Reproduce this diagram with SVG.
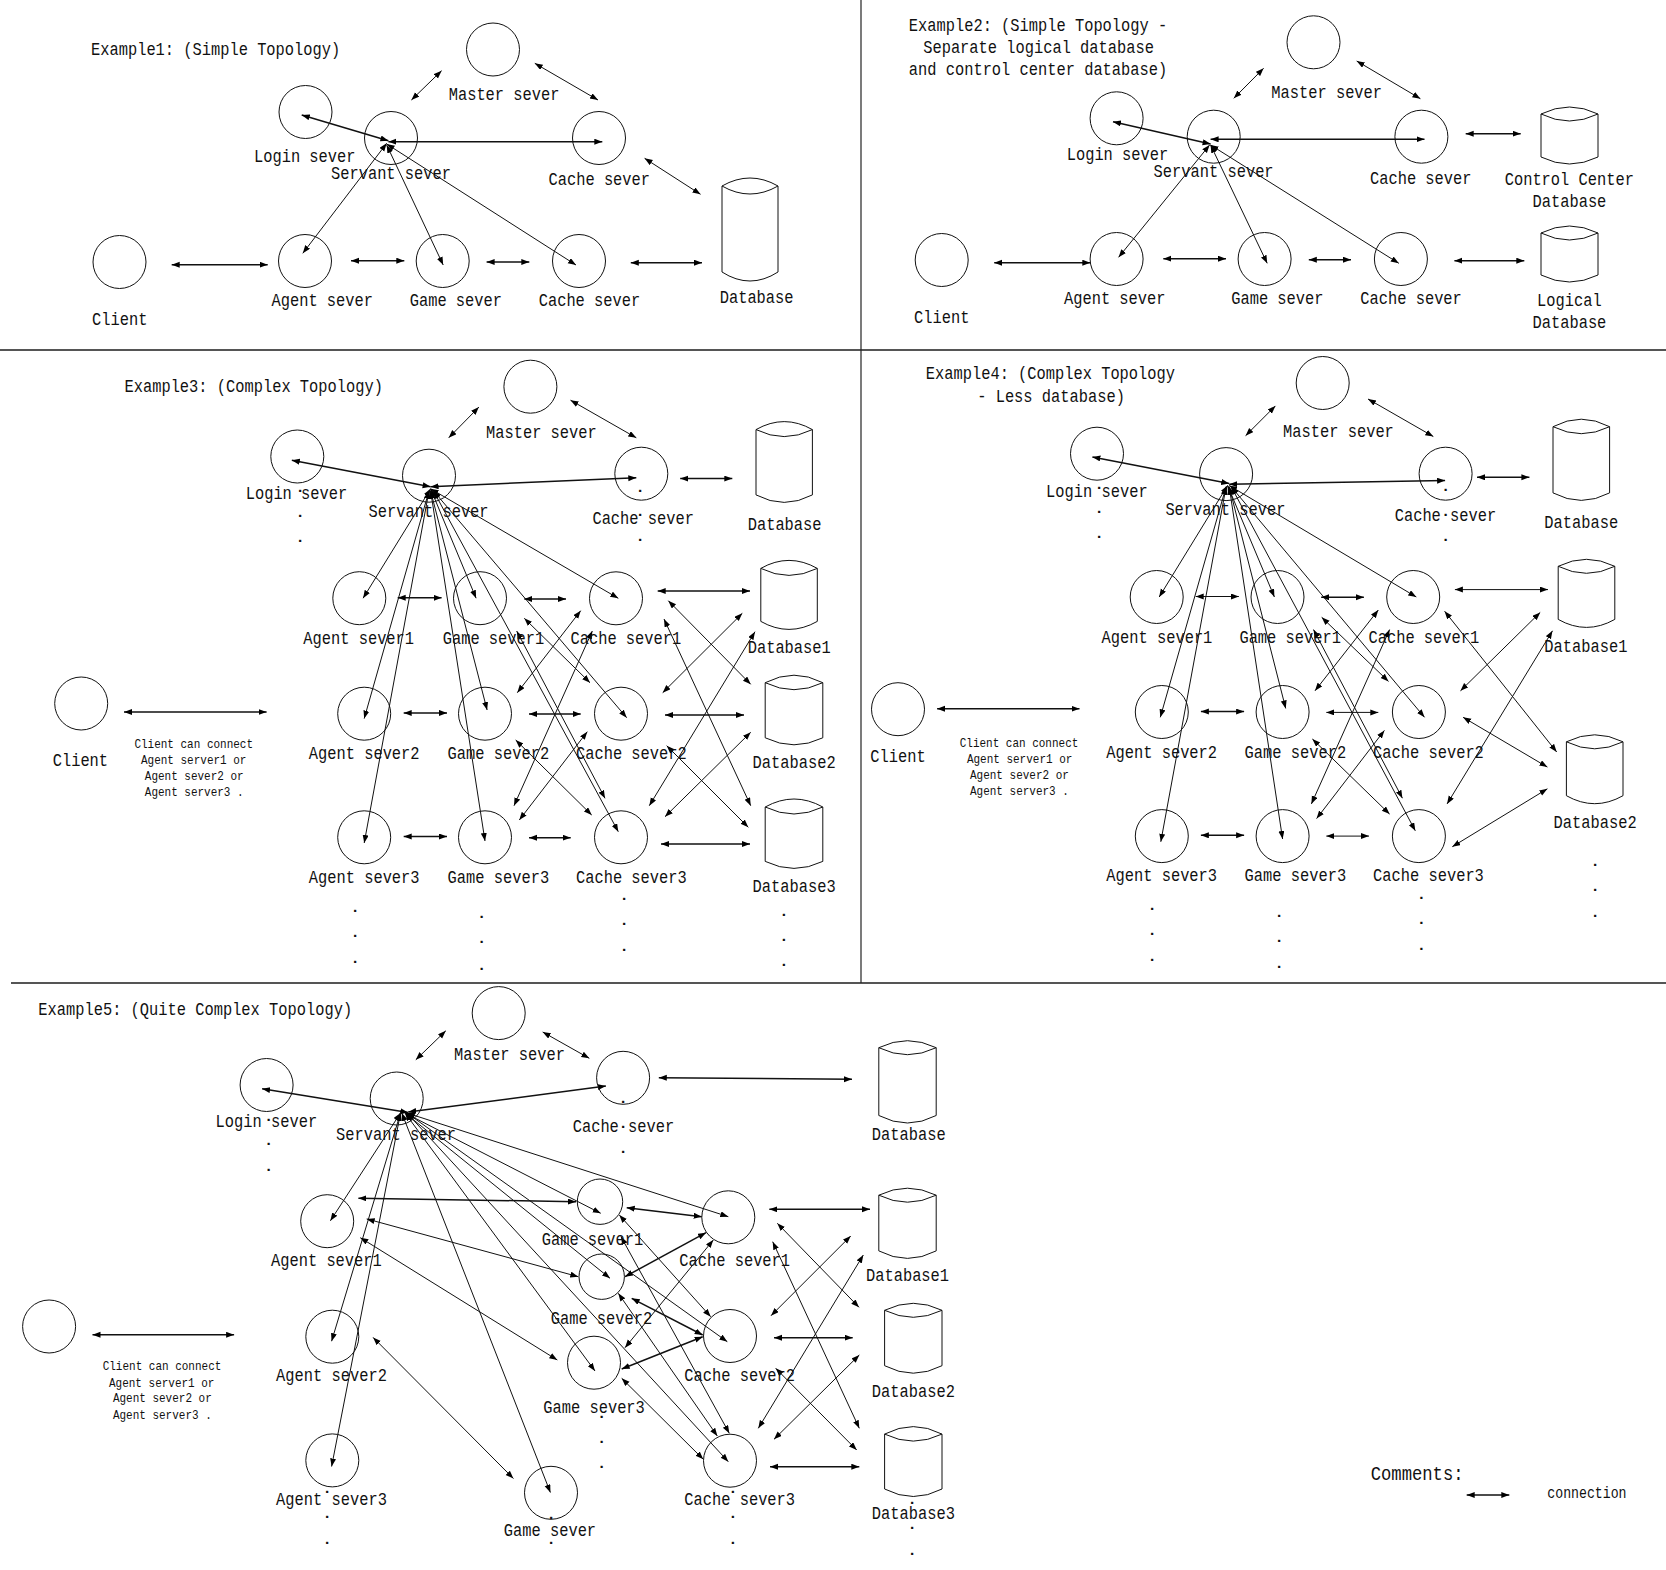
<svg xmlns="http://www.w3.org/2000/svg" width="1666" height="1570" viewBox="0 0 1666 1570">
<style>
text{font-family:"Liberation Mono",monospace;font-size:15.4px;fill:#111;transform-box:fill-box;transform-origin:0 100%;transform:translateY(.066em) scaleY(1.22)}
#dots text{transform:none;font-weight:bold}
.s{font-size:11px}
circle,.db{fill:none;stroke:#111;stroke-width:1}
#connectors line{stroke:#111;stroke-width:1;marker-start:url(#ah);marker-end:url(#ah)}
#connectors line.t{stroke-width:1.5}
.d{stroke:#555;stroke-width:2}
.v{stroke:#222;stroke-width:1.2}
</style>
<defs>
<marker id="ah" markerUnits="userSpaceOnUse" markerWidth="9" markerHeight="7" refX="8" refY="3" orient="auto-start-reverse"><path d="M0 0L8 3L0 6z" fill="#000"/></marker>
</defs>
<rect width="1666" height="1570" fill="#fff"/>
<g id="dividers">
<line class="d" x1="0" y1="350" x2="1666" y2="350"/>
<line class="d" x1="11" y1="983" x2="1666" y2="983"/>
<line class="v" x1="861" y1="0" x2="861" y2="983"/>
</g>
<g id="connectors">
<!-- Example 1 -->
<line x1="441.6" y1="70.7" x2="411.4" y2="100"/>
<line x1="534.8" y1="63.3" x2="598" y2="100"/>
<line class="t" x1="301.7" y1="115" x2="388.4" y2="140.7"/>
<line class="t" x1="388.4" y1="141.7" x2="602.3" y2="141.7"/>
<line x1="644.6" y1="158.3" x2="700.5" y2="194.3"/>
<line x1="386.7" y1="143.3" x2="302.8" y2="253.3"/>
<line x1="386.7" y1="145" x2="443.2" y2="265"/>
<line x1="386.7" y1="144" x2="576" y2="265"/>
<line class="t" x1="171.7" y1="264.7" x2="267.7" y2="264.7"/>
<line class="t" x1="351" y1="260.7" x2="404.3" y2="260.7"/>
<line class="t" x1="486.6" y1="262" x2="529.3" y2="262"/>
<line class="t" x1="630.8" y1="262.7" x2="702" y2="262.7"/>
<!-- Example 2 -->
<line x1="1263.6" y1="68.3" x2="1233.8" y2="98.3"/>
<line x1="1356.7" y1="61" x2="1420.4" y2="98.7"/>
<line class="t" x1="1113" y1="121.7" x2="1210.6" y2="144"/>
<line class="t" x1="1210.6" y1="139.3" x2="1424.5" y2="139.3"/>
<line class="t" x1="1465.7" y1="133.7" x2="1520.7" y2="133.7"/>
<line x1="1209.6" y1="145" x2="1118.6" y2="257.3"/>
<line x1="1210.6" y1="145" x2="1267.2" y2="263.3"/>
<line x1="1210.6" y1="145" x2="1398.8" y2="263.3"/>
<line class="t" x1="994.2" y1="262.7" x2="1090.3" y2="262.7"/>
<line class="t" x1="1163.3" y1="258.7" x2="1226" y2="258.7"/>
<line class="t" x1="1308.8" y1="259.7" x2="1351" y2="259.7"/>
<line class="t" x1="1454.4" y1="260.7" x2="1524.3" y2="260.7"/>
<!-- Example 3 -->
<line x1="478.9" y1="407.1" x2="448.7" y2="437.8"/>
<line x1="570.5" y1="400.2" x2="636.3" y2="437.8"/>
<line class="t" x1="291.8" y1="460.2" x2="430.6" y2="486.7"/>
<line class="t" x1="430.6" y1="486.7" x2="636.3" y2="477.8"/>
<line class="t" x1="680.2" y1="478.6" x2="732.3" y2="478.6"/>
<line x1="430.6" y1="488.8" x2="363.1" y2="598.2"/>
<line x1="430.6" y1="488.8" x2="476.1" y2="598.2"/>
<line x1="430.6" y1="488.8" x2="618.3" y2="598.3"/>
<line x1="429" y1="490.8" x2="364.2" y2="718.6"/>
<line x1="430.6" y1="490.8" x2="487.1" y2="710"/>
<line x1="433.4" y1="490.8" x2="626.7" y2="717.7"/>
<line x1="429" y1="490.8" x2="364.2" y2="843"/>
<line x1="430.6" y1="490.8" x2="485" y2="841"/>
<line x1="433.4" y1="490.8" x2="618.3" y2="831.7"/>
<line x1="516.7" y1="631" x2="605" y2="798.3"/>
<line class="t" x1="124" y1="712" x2="266.6" y2="712"/>
<line class="t" x1="397.7" y1="597.8" x2="441.6" y2="597.8"/>
<line class="t" x1="524.3" y1="599" x2="566" y2="599"/>
<line class="t" x1="657.7" y1="591" x2="750" y2="591"/>
<line class="t" x1="403.7" y1="712.9" x2="447" y2="712.9"/>
<line class="t" x1="529" y1="714" x2="580.7" y2="714"/>
<line class="t" x1="665" y1="715" x2="744" y2="715"/>
<line class="t" x1="403.7" y1="836.5" x2="447" y2="836.5"/>
<line class="t" x1="529" y1="837.7" x2="570.7" y2="837.7"/>
<line class="t" x1="661" y1="844" x2="750" y2="844"/>
<line x1="580.7" y1="610.7" x2="517.3" y2="692.7"/>
<line x1="592.3" y1="631" x2="514" y2="805.7"/>
<line x1="524.3" y1="618.3" x2="590" y2="682.7"/>
<line x1="587.3" y1="731.7" x2="519.3" y2="820"/>
<line x1="515.7" y1="740" x2="591.7" y2="815"/>
<line x1="668.3" y1="600.7" x2="750.7" y2="684.3"/>
<line x1="664" y1="619" x2="750.7" y2="805.7"/>
<line x1="742.3" y1="613.3" x2="662.7" y2="692.7"/>
<line x1="755" y1="631.7" x2="649.3" y2="805.7"/>
<line x1="666.7" y1="745.7" x2="748.3" y2="827.3"/>
<line x1="750.7" y1="732.3" x2="665" y2="816.7"/>
<!-- Example 4 -->
<line x1="1275.4" y1="405.9" x2="1245.6" y2="435.7"/>
<line x1="1368" y1="399" x2="1433.3" y2="436.5"/>
<line class="t" x1="1092.4" y1="456.9" x2="1229.2" y2="483.5"/>
<line class="t" x1="1229.2" y1="484.3" x2="1445.1" y2="480.6"/>
<line class="t" x1="1477" y1="477.3" x2="1529.4" y2="477.3"/>
<line x1="1227.6" y1="485.5" x2="1159.2" y2="597"/>
<line x1="1227.6" y1="485.5" x2="1274.4" y2="597"/>
<line x1="1229.2" y1="485.5" x2="1416.3" y2="597"/>
<line x1="1226.1" y1="486.7" x2="1160.3" y2="717.3"/>
<line x1="1229.2" y1="486.7" x2="1285.7" y2="708.4"/>
<line x1="1231.2" y1="486.7" x2="1424.5" y2="717.3"/>
<line x1="1226.1" y1="486.7" x2="1160.8" y2="841.8"/>
<line x1="1229.2" y1="486.7" x2="1282.6" y2="839"/>
<line x1="1231.2" y1="486.7" x2="1415.3" y2="830.8"/>
<line x1="1313.5" y1="629.6" x2="1402.4" y2="798.2"/>
<line class="t" x1="937.1" y1="708.8" x2="1079.5" y2="708.8"/>
<line x1="1195.7" y1="596.5" x2="1238.9" y2="596.5"/>
<line class="t" x1="1321.2" y1="597.3" x2="1363.9" y2="597.3"/>
<line x1="1454.9" y1="589.6" x2="1548" y2="589.6"/>
<line class="t" x1="1200.9" y1="711.6" x2="1244.1" y2="711.6"/>
<line x1="1326.3" y1="712.4" x2="1378.3" y2="712.4"/>
<line class="t" x1="1200.9" y1="835.3" x2="1244.1" y2="835.3"/>
<line x1="1326.3" y1="836.1" x2="1369" y2="836.1"/>
<line x1="1378.3" y1="610" x2="1315" y2="690.8"/>
<line x1="1389.6" y1="629.6" x2="1311.4" y2="803.9"/>
<line x1="1321.7" y1="617.3" x2="1388.5" y2="681.4"/>
<line x1="1384.4" y1="730.4" x2="1316.6" y2="818.6"/>
<line x1="1312.4" y1="739" x2="1389.6" y2="814.1"/>
<line x1="1444.6" y1="611.2" x2="1556.7" y2="752"/>
<line x1="1540.2" y1="612.4" x2="1460.5" y2="690.8"/>
<line x1="1552.5" y1="630.8" x2="1447.1" y2="803.9"/>
<line x1="1463.1" y1="717.3" x2="1547.4" y2="767.1"/>
<line x1="1547.4" y1="788.8" x2="1452.3" y2="846.7"/>
<!-- Example 5 -->
<line x1="445.8" y1="1030.8" x2="415.8" y2="1059.8"/>
<line x1="542.7" y1="1032" x2="589.3" y2="1058.3"/>
<line class="t" x1="262.1" y1="1088.8" x2="408.2" y2="1112.6"/>
<line class="t" x1="408.2" y1="1112" x2="605.9" y2="1086.1"/>
<line class="t" x1="658.8" y1="1077.8" x2="852" y2="1079.3"/>
<line x1="400.5" y1="1113" x2="330.4" y2="1220.8"/>
<line x1="400.5" y1="1113" x2="331.6" y2="1341.2"/>
<line x1="400.5" y1="1113" x2="331.6" y2="1466.5"/>
<line x1="405" y1="1113" x2="600.7" y2="1213.3"/>
<line x1="405" y1="1113" x2="610" y2="1278.3"/>
<line x1="405" y1="1113" x2="595" y2="1371"/>
<line x1="401.8" y1="1113" x2="550.4" y2="1492.5"/>
<line x1="406.9" y1="1113" x2="728.3" y2="1216.7"/>
<line x1="406.9" y1="1113" x2="727.3" y2="1341.7"/>
<line x1="406.9" y1="1113" x2="728.3" y2="1461.7"/>
<line class="t" x1="358.4" y1="1198.2" x2="576" y2="1201.7"/>
<line x1="366.7" y1="1218.9" x2="578.3" y2="1276.7"/>
<line x1="360.3" y1="1237.7" x2="557.3" y2="1360"/>
<line x1="373.1" y1="1337.4" x2="513.4" y2="1478.5"/>
<line class="t" x1="92.5" y1="1334.8" x2="234.1" y2="1334.8"/>
<line class="t" x1="626.7" y1="1207.7" x2="701.7" y2="1216.7"/>
<line x1="619.3" y1="1215" x2="710.7" y2="1316.7"/>
<line x1="621" y1="1236.7" x2="729.3" y2="1433.3"/>
<line class="t" x1="625" y1="1276.7" x2="706" y2="1232.7"/>
<line class="t" x1="631.7" y1="1298.3" x2="702.7" y2="1335"/>
<line x1="618.3" y1="1293.3" x2="717.3" y2="1436"/>
<line x1="625" y1="1347.7" x2="713.3" y2="1240"/>
<line class="t" x1="621.7" y1="1369" x2="702.7" y2="1336.7"/>
<line x1="621.7" y1="1378.3" x2="703.3" y2="1459.3"/>
<line class="t" x1="769.3" y1="1209.3" x2="870" y2="1209.3"/>
<line class="t" x1="774" y1="1337.7" x2="852.7" y2="1337.7"/>
<line class="t" x1="770" y1="1466.7" x2="859.3" y2="1466.7"/>
<line x1="777.3" y1="1223.3" x2="859" y2="1307.3"/>
<line x1="772.7" y1="1241.7" x2="859.3" y2="1428.3"/>
<line x1="850.7" y1="1236" x2="771" y2="1315.7"/>
<line x1="863.3" y1="1255" x2="758.3" y2="1428.3"/>
<line x1="859.3" y1="1355" x2="774" y2="1439.3"/>
<line x1="775.7" y1="1368.3" x2="856.7" y2="1450"/>
<!-- Legend -->
<line class="t" x1="1466.7" y1="1495" x2="1509.3" y2="1495"/>
</g>
<g id="labels">
<text x="91" y="55">Example1: (Simple Topology)</text>
<text x="908.8" y="31">Example2: (Simple Topology -</text>
<text x="923.2" y="52.7">Separate logical database</text>
<text x="908.8" y="74.7">and control center database)</text>
<text x="124.5" y="391.6">Example3: (Complex Topology)</text>
<text x="925.8" y="378.6">Example4: (Complex Topology</text>
<text x="977.2" y="401.8">- Less database)</text>
<text x="38.3" y="1014.6">Example5: (Quite Complex Topology)</text>
<text x="134.4" y="748" class="s">Client can connect</text>
<text x="141" y="764.3" class="s">Agent server1 or</text>
<text x="144.8" y="780.2" class="s">Agent sever2 or</text>
<text x="144.8" y="796.1" class="s">Agent server3 .</text>
<text x="959.7" y="746.7" class="s">Client can connect</text>
<text x="966.9" y="762.7" class="s">Agent server1 or</text>
<text x="970" y="778.6" class="s">Agent sever2 or</text>
<text x="970" y="794.9" class="s">Agent server3 .</text>
<text x="102.7" y="1370.5" class="s">Client can connect</text>
<text x="109" y="1386.7" class="s">Agent server1 or</text>
<text x="112.9" y="1402.5" class="s">Agent sever2 or</text>
<text x="112.9" y="1418.7" class="s">Agent server3 .</text>
<text x="1370.7" y="1480" style="font-size:17.2px">Comments:</text>
<text x="1547.3" y="1498.3" style="font-size:13.2px">connection</text>
</g>
<g id="dots" text-anchor="middle">
<text x="300" y="492">.</text><text x="300" y="517">.</text><text x="300" y="542">.</text>
<text x="640" y="492">.</text><text x="640" y="516">.</text><text x="640" y="541">.</text>
<text x="355" y="912">.</text><text x="355" y="937">.</text><text x="355" y="963">.</text>
<text x="481.6" y="918">.</text><text x="481.6" y="943">.</text><text x="481.6" y="970">.</text>
<text x="624.2" y="900">.</text><text x="624.2" y="925">.</text><text x="624.2" y="951">.</text>
<text x="783.9" y="916">.</text><text x="783.9" y="941">.</text><text x="783.9" y="966">.</text>
<text x="1099" y="489">.</text><text x="1099" y="513">.</text><text x="1099" y="538">.</text>
<text x="1445.6" y="491">.</text><text x="1445.6" y="516">.</text><text x="1445.6" y="541">.</text>
<text x="1152" y="910">.</text><text x="1152" y="935">.</text><text x="1152" y="961">.</text>
<text x="1279" y="917">.</text><text x="1279" y="942">.</text><text x="1279" y="968">.</text>
<text x="1421.4" y="899">.</text><text x="1421.4" y="924">.</text><text x="1421.4" y="950">.</text>
<text x="1595.2" y="866">.</text><text x="1595.2" y="891">.</text><text x="1595.2" y="917">.</text>
<text x="268.5" y="1121">.</text><text x="268.5" y="1145">.</text><text x="268.5" y="1171">.</text>
<text x="623" y="1103">.</text><text x="623" y="1128">.</text><text x="623" y="1153">.</text>
<text x="601.7" y="1418">.</text><text x="601.7" y="1443">.</text><text x="601.7" y="1468">.</text>
<text x="327.2" y="1493">.</text><text x="327.2" y="1518">.</text><text x="327.2" y="1544">.</text>
<text x="732.8" y="1493">.</text><text x="732.8" y="1518">.</text><text x="732.8" y="1544">.</text>
<text x="551" y="1519">.</text><text x="551" y="1544">.</text>
<text x="912" y="1504">.</text><text x="912" y="1529">.</text><text x="912" y="1555">.</text>
</g>
<g id="ex1-master"><circle cx="493" cy="49.5" r="26.5"/><text x="448.7" y="100">Master sever</text></g>
<g id="ex1-login"><circle cx="305.5" cy="112" r="26.5"/><text x="254" y="161.7">Login sever</text></g>
<g id="ex1-servant"><circle cx="391" cy="138" r="26.5"/><text x="331" y="179">Servant sever</text></g>
<g id="ex1-cache-top"><circle cx="599" cy="138" r="26.5"/><text x="548.5" y="185">Cache sever</text></g>
<g id="ex1-client"><circle cx="119.5" cy="262" r="26.5"/><text x="92" y="325">Client</text></g>
<g id="ex1-agent"><circle cx="305" cy="261" r="26.5"/><text x="271.5" y="306">Agent sever</text></g>
<g id="ex1-game"><circle cx="442.7" cy="261" r="26.5"/><text x="409.7" y="306">Game sever</text></g>
<g id="ex1-cache"><circle cx="579" cy="261" r="26.5"/><text x="538.7" y="306">Cache sever</text></g>
<g id="ex1-database"><path class="db" d="M722 186q28 -16 56 0q-28 16 -56 0v86q28 18 56 0v-86"/><text x="719.7" y="303.3">Database</text></g>
<g id="ex2-master"><circle cx="1313.5" cy="42.3" r="26.5"/><text x="1271.3" y="97.7">Master sever</text></g>
<g id="ex2-login"><circle cx="1116.6" cy="118.3" r="26.5"/><text x="1066.7" y="160">Login sever</text></g>
<g id="ex2-servant"><circle cx="1213.7" cy="136.7" r="26.5"/><text x="1153.6" y="176.7">Servant sever</text></g>
<g id="ex2-cache-top"><circle cx="1421.4" cy="136.7" r="26.5"/><text x="1370" y="183.7">Cache sever</text></g>
<g id="ex2-client"><circle cx="941.7" cy="260" r="26.5"/><text x="914" y="322.7">Client</text></g>
<g id="ex2-agent"><circle cx="1116.6" cy="259" r="26.5"/><text x="1064" y="304">Agent sever</text></g>
<g id="ex2-game"><circle cx="1264.6" cy="259" r="26.5"/><text x="1231.2" y="304">Game sever</text></g>
<g id="ex2-cache"><circle cx="1400.9" cy="259" r="26.5"/><text x="1360.3" y="304">Cache sever</text></g>
<g id="ex2-control-db"><path class="db" d="M1541 114q28.5 -14 57 0q-28.5 14 -57 0v43q28.5 14 57 0v-43"/><text x="1504.7" y="184.7">Control Center</text><text x="1532.5" y="206.7">Database</text></g>
<g id="ex2-logical-db"><path class="db" d="M1541 233q28.5 -14 57 0q-28.5 14 -57 0v42q28.5 14 57 0v-42"/><text x="1537" y="305.7">Logical</text><text x="1532.5" y="327.7">Database</text></g>
<g id="ex3-master"><circle cx="530.4" cy="386.7" r="26.5"/><text x="486" y="438.2">Master sever</text></g>
<g id="ex3-login"><circle cx="297.3" cy="456.5" r="26.5"/><text x="245.7" y="499">Login sever</text></g>
<g id="ex3-servant"><circle cx="429" cy="475.7" r="26.5"/><text x="368.6" y="517.3">Servant sever</text></g>
<g id="ex3-cache-top"><circle cx="641.3" cy="473.7" r="26.5"/><text x="592.4" y="523.5">Cache sever</text></g>
<g id="ex3-agent1"><circle cx="359.3" cy="598.2" r="26.5"/><text x="303.3" y="643.5">Agent sever1</text></g>
<g id="ex3-game1"><circle cx="480" cy="598.2" r="26.5"/><text x="442.7" y="643.5">Game sever1</text></g>
<g id="ex3-cache1"><circle cx="616" cy="598.3" r="26.5"/><text x="570.5" y="643.5">Cache sever1</text></g>
<g id="ex3-agent2"><circle cx="364.2" cy="713.7" r="26.5"/><text x="308.8" y="758.6">Agent sever2</text></g>
<g id="ex3-game2"><circle cx="485" cy="713.7" r="26.5"/><text x="447.6" y="758.6">Game sever2</text></g>
<g id="ex3-cache2"><circle cx="621" cy="713.7" r="26.5"/><text x="576" y="758.6">Cache sever2</text></g>
<g id="ex3-agent3"><circle cx="364.2" cy="837.3" r="26.5"/><text x="308.8" y="882.7">Agent sever3</text></g>
<g id="ex3-game3"><circle cx="485" cy="837.3" r="26.5"/><text x="447.6" y="882.7">Game sever3</text></g>
<g id="ex3-cache3"><circle cx="621" cy="837.3" r="26.5"/><text x="576" y="882.7">Cache sever3</text></g>
<g id="ex3-client"><circle cx="81.2" cy="703.5" r="26.5"/><text x="52.7" y="766">Client</text></g>
<g id="ex3-database"><path class="db" d="M756 429.6q28.2 -16 56.4 0q-28.2 14 -56.4 0v65.3q28.2 15 56.4 0v-65.3"/><text x="747.7" y="529.6">Database</text></g>
<g id="ex3-database1"><path class="db" d="M760.8 568.4q28.2 -16 56.5 0q-28.2 14 -56.5 0v53q28.2 16 56.5 0v-53"/><text x="747.7" y="653.3">Database1</text></g>
<g id="ex3-database2"><path class="db" d="M765.2 682.7q28.8 -15 57.6 0q-28.8 14 -57.6 0v55.1q28.8 14 57.6 0v-55.1"/><text x="752.6" y="768.4">Database2</text></g>
<g id="ex3-database3"><path class="db" d="M765.2 807q28.8 -16 57.6 0q-28.8 14 -57.6 0v54.4q28.8 14 57.6 0v-54.4"/><text x="752.6" y="892.4">Database3</text></g>
<g id="ex4-master"><circle cx="1322.7" cy="383" r="26.5"/><text x="1283.1" y="436.5">Master sever</text></g>
<g id="ex4-login"><circle cx="1097" cy="453.7" r="26.5"/><text x="1046.1" y="496.5">Login sever</text></g>
<g id="ex4-servant"><circle cx="1226.1" cy="474.1" r="26.5"/><text x="1165.4" y="515.3">Servant sever</text></g>
<g id="ex4-cache-top"><circle cx="1445.6" cy="473.7" r="26.5"/><text x="1394.7" y="521.4">Cache sever</text></g>
<g id="ex4-agent1"><circle cx="1156.7" cy="597" r="26.5"/><text x="1101.6" y="642.7">Agent sever1</text></g>
<g id="ex4-game1"><circle cx="1277.5" cy="597" r="26.5"/><text x="1239.4" y="642.7">Game sever1</text></g>
<g id="ex4-cache1"><circle cx="1413.2" cy="597" r="26.5"/><text x="1368.5" y="642.7">Cache sever1</text></g>
<g id="ex4-agent2"><circle cx="1161.8" cy="712" r="26.5"/><text x="1106.3" y="757.8">Agent sever2</text></g>
<g id="ex4-game2"><circle cx="1282.6" cy="712" r="26.5"/><text x="1244.6" y="757.8">Game sever2</text></g>
<g id="ex4-cache2"><circle cx="1418.9" cy="712" r="26.5"/><text x="1373.1" y="757.8">Cache sever2</text></g>
<g id="ex4-agent3"><circle cx="1161.8" cy="836.1" r="26.5"/><text x="1106.3" y="881.4">Agent sever3</text></g>
<g id="ex4-game3"><circle cx="1282.6" cy="836.1" r="26.5"/><text x="1244.6" y="881.4">Game sever3</text></g>
<g id="ex4-cache3"><circle cx="1418.9" cy="836.1" r="26.5"/><text x="1373.1" y="881.4">Cache sever3</text></g>
<g id="ex4-client"><circle cx="898" cy="709.2" r="26.5"/><text x="870.3" y="762.2">Client</text></g>
<g id="ex4-database"><path class="db" d="M1553 426.7q28.3 -15 56.6 0q-28.3 14 -56.6 0v66.2q28.3 15 56.6 0v-66.2"/><text x="1544.3" y="527.6">Database</text></g>
<g id="ex4-database1"><path class="db" d="M1558.2 566.3q28.3 -14 56.6 0q-28.3 14 -56.6 0v53.1q28.3 16 56.6 0v-53.1"/><text x="1544.3" y="652.4">Database1</text></g>
<g id="ex4-database2"><path class="db" d="M1566.4 741.8q28.3 -14 56.6 0q-28.3 14 -56.6 0v53.9q28.3 16 56.6 0v-53.9"/><text x="1553.6" y="827.6">Database2</text></g>
<g id="ex5-master"><circle cx="498.7" cy="1013.1" r="26.5"/><text x="454.1" y="1060.2">Master sever</text></g>
<g id="ex5-login"><circle cx="266.6" cy="1085" r="26.5"/><text x="215.6" y="1126.7">Login sever</text></g>
<g id="ex5-servant"><circle cx="396.7" cy="1098.5" r="26.5"/><text x="336.1" y="1139.9">Servant sever</text></g>
<g id="ex5-cache-top"><circle cx="623.1" cy="1077.8" r="26.5"/><text x="572.7" y="1131.7">Cache sever</text></g>
<g id="ex5-agent1"><circle cx="327.2" cy="1221.2" r="26.5"/><text x="271" y="1266">Agent sever1</text></g>
<g id="ex5-agent2"><circle cx="332.3" cy="1336.7" r="26.5"/><text x="276.1" y="1380.7">Agent sever2</text></g>
<g id="ex5-agent3"><circle cx="332.3" cy="1460.4" r="26.5"/><text x="276.1" y="1504.8">Agent sever3</text></g>
<g id="ex5-game1"><circle cx="600" cy="1201.7" r="22.7"/><text x="541.7" y="1245">Game sever1</text></g>
<g id="ex5-game2"><circle cx="601.7" cy="1276.7" r="22.7"/><text x="550.7" y="1324">Game sever2</text></g>
<g id="ex5-game3"><circle cx="594" cy="1362.7" r="26.5"/><text x="543.3" y="1412.7">Game sever3</text></g>
<g id="ex5-game"><circle cx="551" cy="1492.8" r="26.5"/><text x="503.8" y="1535.7">Game sever</text></g>
<g id="ex5-cache1"><circle cx="728.3" cy="1217.3" r="26.5"/><text x="679.3" y="1266">Cache sever1</text></g>
<g id="ex5-cache2"><circle cx="730" cy="1336" r="26.5"/><text x="684.3" y="1381">Cache sever2</text></g>
<g id="ex5-cache3"><circle cx="730" cy="1460.7" r="26.5"/><text x="684.3" y="1504.8">Cache sever3</text></g>
<g id="ex5-client"><circle cx="49.1" cy="1326.5" r="26.5"/></g>
<g id="ex5-database"><path class="db" d="M878.8 1047.7q28.7 -14 57.4 0q-28.7 14 -57.4 0v67.8q28.7 15 57.4 0v-67.8"/><text x="871.8" y="1139.9">Database</text></g>
<g id="ex5-database1"><path class="db" d="M878.8 1195.2q28.7 -14 57.4 0q-28.7 14 -57.4 0v55.7q28.7 15 57.4 0v-55.7"/><text x="866" y="1281">Database1</text></g>
<g id="ex5-database2"><path class="db" d="M884.6 1310.3q28.7 -14 57.4 0q-28.7 14 -57.4 0v55.4q28.7 15 57.4 0v-55.4"/><text x="871.8" y="1396.9">Database2</text></g>
<g id="ex5-database3"><path class="db" d="M884.6 1434.1q28.7 -15 57.4 0q-28.7 14 -57.4 0v54.9q28.7 15 57.4 0v-54.9"/><text x="871.8" y="1519.1">Database3</text></g>
</svg>
